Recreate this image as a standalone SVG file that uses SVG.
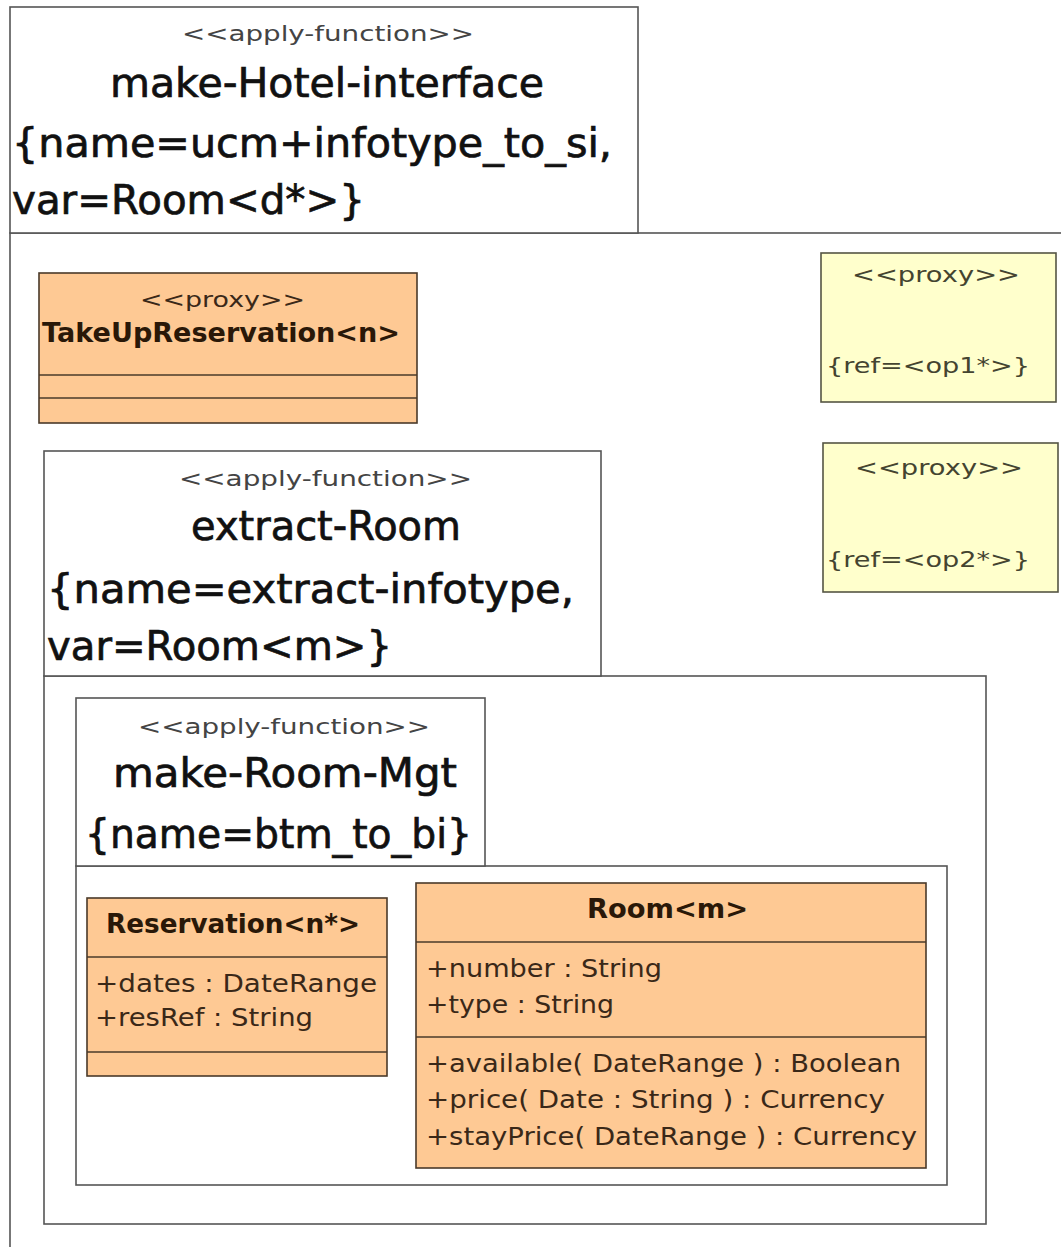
<svg xmlns="http://www.w3.org/2000/svg" width="1061" height="1247" viewBox="0 0 1061 1247">
<style>
.frame{fill:#ffffff;stroke:#555555;stroke-width:1.6}
.cls{fill:#fec994;stroke:#4a3a2a;stroke-width:1.6}
.prx{fill:#ffffcc;stroke:#555544;stroke-width:1.6}
.sep{stroke:#4a3a2a;stroke-width:1.6}
text{font-family:"DejaVu Sans","Liberation Sans",sans-serif}
.st{font-size:21px;fill:#444444}
.big{font-size:40px;fill:#111111;stroke:#111111;stroke-width:0.7}
.nm{font-size:26px;font-weight:bold;fill:#2a1808}
.at{font-size:25px;fill:#3a2818}
.px{font-size:22px;fill:#444430}
</style>
<rect x="0" y="0" width="1061" height="1247" fill="#ffffff"/>
<g id="make-Hotel-interface">
<rect class="frame" x="10" y="233" width="1100" height="1100"/>
<rect class="frame" x="10" y="7" width="628" height="226"/>
<text class="st" x="182" y="41" textLength="292" lengthAdjust="spacingAndGlyphs">&lt;&lt;apply-function&gt;&gt;</text>
<text class="big" x="110" y="97" textLength="434" lengthAdjust="spacingAndGlyphs">make-Hotel-interface</text>
<text class="big" x="12" y="157" textLength="600" lengthAdjust="spacingAndGlyphs">{name=ucm+infotype_to_si,</text>
<text class="big" x="12" y="214" textLength="353" lengthAdjust="spacingAndGlyphs">var=Room&lt;d*&gt;}</text>
</g>
<g id="TakeUpReservation">
<rect class="cls" x="39" y="273" width="378" height="150"/>
<line class="sep" x1="39" y1="375" x2="417" y2="375"/>
<line class="sep" x1="39" y1="398" x2="417" y2="398"/>
<text class="px" x="140" y="307" textLength="165" lengthAdjust="spacingAndGlyphs" style="fill:#3a2818">&lt;&lt;proxy&gt;&gt;</text>
<text class="nm" x="42" y="342" textLength="358" lengthAdjust="spacingAndGlyphs">TakeUpReservation&lt;n&gt;</text>
</g>
<g id="proxy-op1">
<rect class="prx" x="821" y="253" width="235" height="149"/>
<text class="px" x="852" y="282" textLength="168" lengthAdjust="spacingAndGlyphs">&lt;&lt;proxy&gt;&gt;</text>
<text class="px" x="826" y="373" textLength="204" lengthAdjust="spacingAndGlyphs">{ref=&lt;op1*&gt;}</text>
</g>
<g id="proxy-op2">
<rect class="prx" x="823" y="443" width="235" height="149"/>
<text class="px" x="855" y="475" textLength="168" lengthAdjust="spacingAndGlyphs">&lt;&lt;proxy&gt;&gt;</text>
<text class="px" x="826" y="567" textLength="204" lengthAdjust="spacingAndGlyphs">{ref=&lt;op2*&gt;}</text>
</g>
<g id="extract-Room">
<rect class="frame" x="44" y="676" width="942" height="548"/>
<rect class="frame" x="44" y="451" width="557" height="225"/>
<text class="st" x="179" y="486" textLength="293" lengthAdjust="spacingAndGlyphs">&lt;&lt;apply-function&gt;&gt;</text>
<text class="big" x="191" y="540" textLength="270" lengthAdjust="spacingAndGlyphs">extract-Room</text>
<text class="big" x="47" y="603" textLength="527" lengthAdjust="spacingAndGlyphs">{name=extract-infotype,</text>
<text class="big" x="47" y="660" textLength="345" lengthAdjust="spacingAndGlyphs">var=Room&lt;m&gt;}</text>
</g>
<g id="make-Room-Mgt">
<rect class="frame" x="76" y="866" width="871" height="319"/>
<rect class="frame" x="76" y="698" width="409" height="168"/>
<text class="st" x="138" y="734" textLength="292" lengthAdjust="spacingAndGlyphs">&lt;&lt;apply-function&gt;&gt;</text>
<text class="big" x="113" y="787" textLength="344" lengthAdjust="spacingAndGlyphs">make-Room-Mgt</text>
<text class="big" x="85" y="848" textLength="387" lengthAdjust="spacingAndGlyphs">{name=btm_to_bi}</text>
</g>
<g id="Reservation">
<rect class="cls" x="87" y="898" width="300" height="178"/>
<line class="sep" x1="87" y1="957" x2="387" y2="957"/>
<line class="sep" x1="87" y1="1052" x2="387" y2="1052"/>
<text class="nm" x="106" y="933" textLength="254" lengthAdjust="spacingAndGlyphs">Reservation&lt;n*&gt;</text>
<text class="at" x="95" y="992" textLength="282" lengthAdjust="spacingAndGlyphs">+dates : DateRange</text>
<text class="at" x="95" y="1026" textLength="218" lengthAdjust="spacingAndGlyphs">+resRef : String</text>
</g>
<g id="Room">
<rect class="cls" x="416" y="883" width="510" height="285"/>
<line class="sep" x1="416" y1="942" x2="926" y2="942"/>
<line class="sep" x1="416" y1="1037" x2="926" y2="1037"/>
<text class="nm" x="587" y="918" textLength="161" lengthAdjust="spacingAndGlyphs">Room&lt;m&gt;</text>
<text class="at" x="426" y="977" textLength="236" lengthAdjust="spacingAndGlyphs">+number : String</text>
<text class="at" x="426" y="1013" textLength="188" lengthAdjust="spacingAndGlyphs">+type : String</text>
<text class="at" x="426" y="1072" textLength="475" lengthAdjust="spacingAndGlyphs">+available( DateRange ) : Boolean</text>
<text class="at" x="426" y="1108" textLength="459" lengthAdjust="spacingAndGlyphs">+price( Date : String ) : Currency</text>
<text class="at" x="426" y="1145" textLength="491" lengthAdjust="spacingAndGlyphs">+stayPrice( DateRange ) : Currency</text>
</g>
<g id="connectors"></g>
</svg>
